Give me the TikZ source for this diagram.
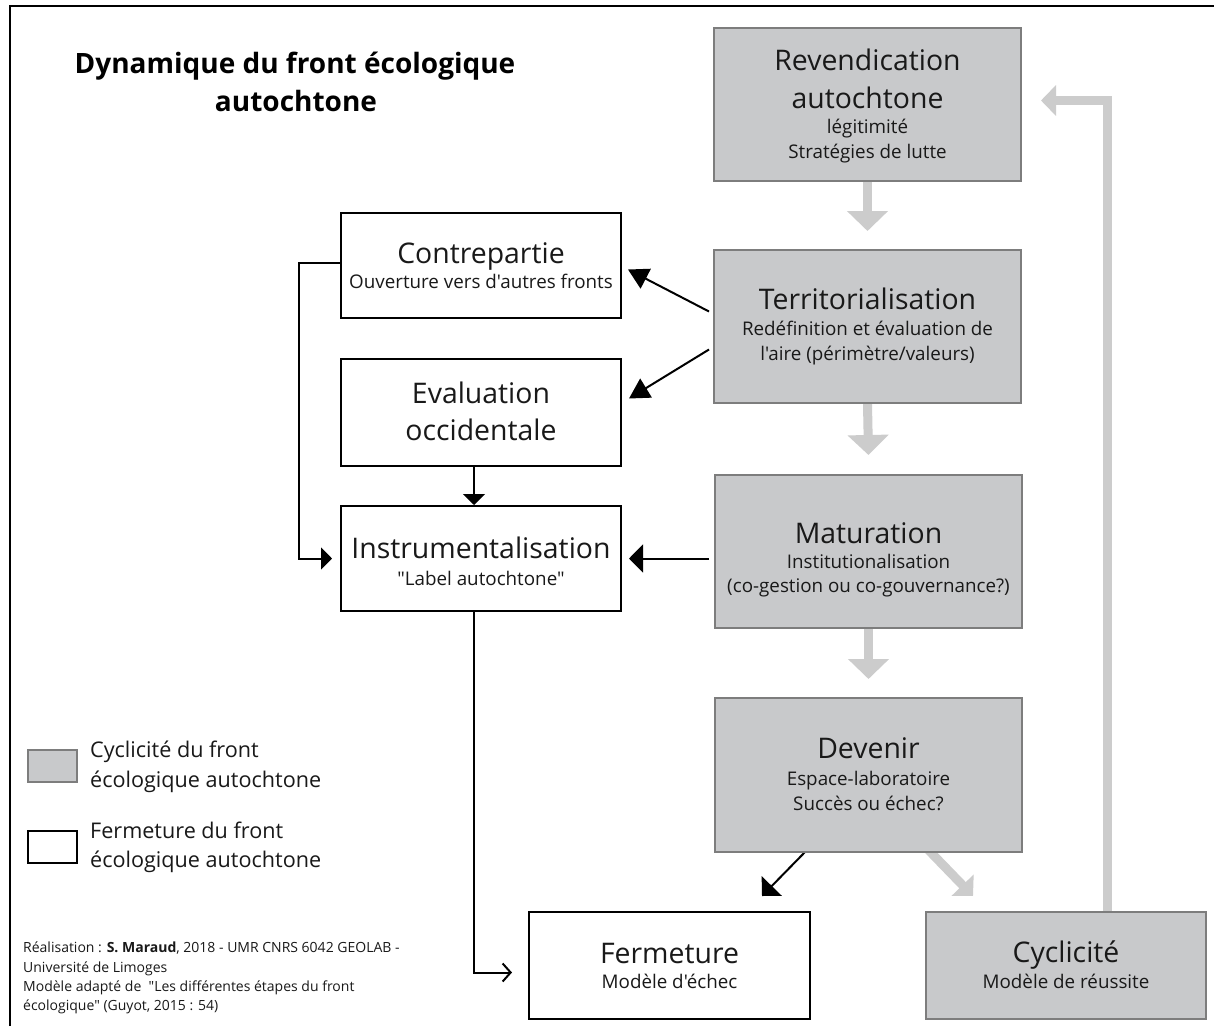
\documentclass[tikz,border=0pt]{standalone}
\usepackage{fontspec}
\newfontfamily\osans{Open Sans}
\usetikzlibrary{arrows.meta,calc}
\pgfdeclarelayer{background}
\pgfsetlayers{background,main}
\definecolor{boxgray}{RGB}{200,201,203}
\definecolor{edgegray}{RGB}{125,125,125}
\definecolor{arrgray}{RGB}{204,204,204}
\definecolor{txt}{RGB}{25,25,25}
\tikzset{
  graybox/.style={draw=edgegray, fill=boxgray, line width=2pt, inner sep=0pt},
  whitebox/.style={draw=black, fill=white, line width=2pt, inner sep=0pt},
  bigt/.style={anchor=base, inner sep=0pt, text=txt, font=\osans\fontsize{28.4}{32}\selectfont},
  smallt/.style={anchor=base, inner sep=0pt, text=txt, font=\osans\fontsize{18.8}{22}\selectfont},
  legt/.style={anchor=base west, inner sep=0pt, text=txt, font=\osans\fontsize{21.6}{25}\selectfont},
  credt/.style={anchor=base west, inner sep=0pt, text=txt, font=\osans\fontsize{14}{16}\selectfont},
  titlet/.style={anchor=base, inner sep=0pt, text=black, font=\osans\fontsize{28}{32}\selectfont\bfseries},
  grayarrow/.style={draw=arrgray, line width=9pt, -{Triangle[length=20pt,width=40pt]}},
  grayret/.style={draw=arrgray, line width=9pt, -{Triangle[length=15pt,width=30pt]}},
  graydiag/.style={draw=arrgray, line width=9pt, -{Triangle[length=15pt,width=30pt]}},
  blackarrow/.style={draw=black, line width=2pt, -{Triangle[length=20pt,width=22pt]}},
  blacksmall/.style={draw=black, line width=2pt, -{Triangle[length=11pt,width=22pt]}},
  blackmid/.style={draw=black, line width=2pt, -{Triangle[length=14pt,width=28pt]}},
  blackdiag/.style={draw=black, line width=2pt, -{Triangle[length=14pt,width=28pt]}},
  blackopen/.style={draw=black, line width=2pt, -{Straight Barb[length=8pt,width=18pt]}},
}
\begin{document}
\begin{tikzpicture}[x=1pt,y=-1pt]
\useasboundingbox (0,0) rectangle (1216,1026);
\begin{pgfonlayer}{background}
\fill[white] (0,0) rectangle (1216,1026);
\end{pgfonlayer}
% frame (top and left edges)
\draw[line width=2pt] (10,1026) -- (10,6) -- (1214,6);

% title
\node[titlet] (title1) at (295,73) {Dynamique du front écologique};
\node[titlet] (title2) at (296,111) {autochtone};

% gray boxes
\node[graybox, minimum width=307pt, minimum height=153pt] (rev) at (867.5,104.5) {};
\node[graybox, minimum width=307pt, minimum height=153pt] (ter) at (867.5,326.5) {};
\node[graybox, minimum width=307pt, minimum height=153pt] (mat) at (868.5,551.5) {};
\node[graybox, minimum width=307pt, minimum height=154pt] (dev) at (868.5,775) {};
\node[graybox, minimum width=280pt, minimum height=107pt] (cyc) at (1066,965.5) {};
% white boxes
\node[whitebox, minimum width=280pt, minimum height=105pt] (contre) at (481,265.5) {};
\node[whitebox, minimum width=280pt, minimum height=107pt] (eval) at (481,412.5) {};
\node[whitebox, minimum width=280pt, minimum height=105pt] (instr) at (481,558.5) {};
\node[whitebox, minimum width=281pt, minimum height=107pt] (ferm) at (669.5,965.5) {};

% texts in boxes
\node[bigt] (rev1) at (867.5,70) {Revendication};
\node[bigt] (rev2) at (867.5,108) {autochtone};
\node[smallt] (rev3) at (867.5,133) {légitimité};
\node[smallt] (rev4) at (867.5,158) {Stratégies de lutte};

\node[bigt] (ter1) at (867.5,309) {Territorialisation};
\node[smallt] (ter2) at (867.5,335) {Redéfinition et évaluation de};
\node[smallt] (ter3) at (867.5,360) {l'aire (périmètre/valeurs)};

\node[bigt] (mat1) at (868.5,543) {Maturation};
\node[smallt] (mat2) at (868.5,568) {Institutionalisation};
\node[smallt] (mat3) at (868.5,592) {(co-gestion ou co-gouvernance?)};

\node[bigt] (dev1) at (868.5,758) {Devenir};
\node[smallt] (dev2) at (868.5,785) {Espace-laboratoire};
\node[smallt] (dev3) at (868.5,810) {Succès ou échec?};

\node[bigt] (cyc1) at (1066,962) {Cyclicité};
\node[smallt] (cyc2) at (1066,988) {Modèle de réussite};

\node[bigt] (ferm1) at (669.5,963) {Fermeture};
\node[smallt] (ferm2) at (669.5,988) {Modèle d'échec};

\node[bigt] (con1) at (481,263) {Contrepartie};
\node[smallt] (con2) at (481,288) {Ouverture vers d'autres fronts};

\node[bigt] (eva1) at (481,403) {Evaluation};
\node[bigt] (eva2) at (481,440) {occidentale};

\node[bigt] (ins1) at (481,558) {Instrumentalisation};
\node[smallt] (ins2) at (481,585) {"Label autochtone"};

% legend
\node[graybox, minimum width=49pt, minimum height=32pt] (leg1) at (52,765.5) {};
\node[whitebox, minimum width=49pt, minimum height=32pt] (leg2) at (52,846.5) {};
\node[legt] (leg1a) at (90,757) {Cyclicité du front};
\node[legt] (leg1b) at (90,787) {écologique autochtone};
\node[legt] (leg2a) at (90,838) {Fermeture du front};
\node[legt] (leg2b) at (90,867) {écologique autochtone};

% credits
\node[credt] (cr1) at (23,952) {Réalisation : \textbf{S. Maraud}, 2018 - UMR CNRS 6042 GEOLAB -};
\node[credt] (cr2) at (23,972) {Université de Limoges};
\node[credt] (cr3) at (23,991) {Modèle adapté de \ "Les différentes étapes du front};
\node[credt] (cr4) at (23,1010) {écologique" (Guyot, 2015 : 54)};

% connectors
\begin{pgfonlayer}{background}
\draw[grayarrow] (rev.south) -- ($(ter.north)+(0,-18)$);
\draw[grayarrow] (ter.south) -- ($(mat.north)+(0,-19)$);
\draw[grayarrow] (mat.south) -- ($(dev.north)+(0,-18)$);
\draw[graydiag] ($(dev.south)+(60,-3)$) -- ($(cyc.north west)+(48,-15)$);
\draw[grayret, line join=miter] ($(cyc.north)+(41,0)$) |- ($(rev.east)+(19,-4)$);
\draw[blackdiag] ($(dev.south west)+(92,-2)$) -- ($(ferm.north east)+(-49,-15)$);
\end{pgfonlayer}
\draw[blackarrow] ($(ter.west)+(-4,-15)$) -- ($(contre.east)+(6,4)$);
\draw[blackarrow] ($(ter.west)+(-4,23)$) -- ($(eval.east)+(7,-14)$);
\draw[blackmid] ($(mat.west |- instr.east)+(-5,0)$) -- ($(instr.east)+(7,0)$);
\draw[blacksmall] ($(eval.south)+(-7,0)$) -- ($(instr.north)+(-7,0)$);
\draw[blacksmall, line join=miter] ($(contre.west)+(0,-3)$) -- ++(-41,0) |- ($(instr.west)+(-8,0)$);
\draw[blackopen, line join=miter] ($(instr.south)+(-7,0)$) |- ($(ferm.west)+(-16,7)$);
\end{tikzpicture}
\end{document}
